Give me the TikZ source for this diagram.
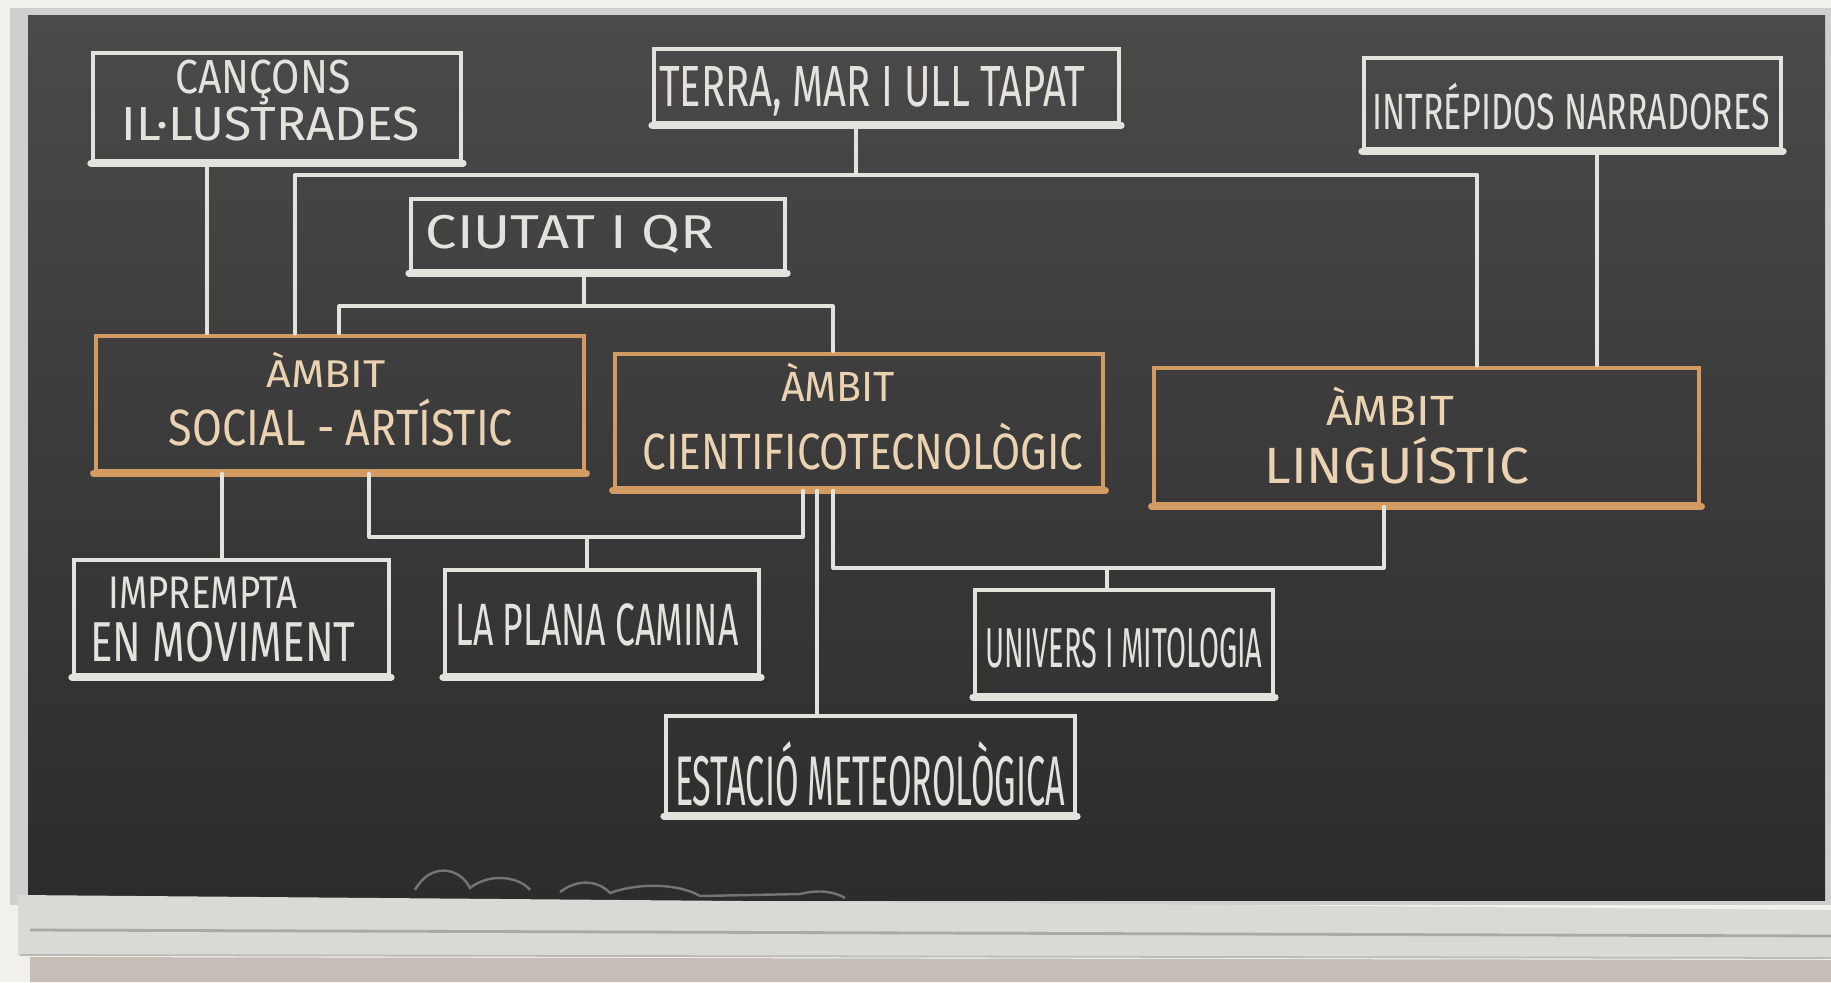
\documentclass[tikz,border=0pt]{standalone}
\usepackage{fontspec}
\setmainfont{Fira Sans}
\usepackage{graphicx}
\usetikzlibrary{fit}
\newlength{\pxu}\setlength{\pxu}{0.01cm}
\newcommand{\cl}[3]{{\fontsize{#1}{#1}\selectfont\resizebox{#2\pxu}{\height}{#3}}}
\definecolor{wallc}{HTML}{F2F0EC}
\definecolor{framec}{HTML}{CFCFCD}
\definecolor{boardtop}{HTML}{4A4A4B}
\definecolor{boardbot}{HTML}{2D2B2B}
\definecolor{trayc}{HTML}{D9D9D5}
\definecolor{traydark}{HTML}{A9A9A5}
\definecolor{floorc}{HTML}{C4BEB6}
\definecolor{chalk}{HTML}{E4E2DC}
\definecolor{ochalk}{HTML}{D39A62}
\definecolor{otext}{HTML}{EBD3B2}
\begin{document}
\begin{tikzpicture}[x=0.01cm,y=-0.01cm,
  box/.style={draw=chalk,line width=1.2pt,inner sep=0pt},
  obox/.style={draw=ochalk,line width=1.4pt,inner sep=0pt},
  txt/.style={text=chalk,inner sep=0pt,align=center},
  otxt/.style={text=otext,inner sep=0pt,align=center},
  base/.style={line width=2pt,line cap=round},
  conn/.style={draw=chalk,line width=0.9pt,line cap=round,line join=round}]
\useasboundingbox (0,0) rectangle (1831,982);
% board and frame
\fill[wallc] (0,0) rectangle (1831,982);
\fill[framec] (10,8) rectangle (1831,905);
\shade[top color=boardtop,bottom color=boardbot] (28,16) rectangle (1825,900);
\fill[trayc] (18,895) -- (1831,910) -- (1831,958) -- (18,955) -- cycle;
\draw[traydark,line width=0.8pt] (30,930) -- (1831,936);
\draw[traydark!80,line width=0.5pt] (20,955) -- (1831,958);
\fill[floorc] (30,957) -- (1831,960) -- (1831,982) -- (30,982) -- cycle;
\draw[chalk!40!boardbot,line width=0.7pt] (415,890) .. controls (430,862) and (460,867) .. (470,888) .. controls (490,872) and (520,877) .. (530,890) (560,892) .. controls (580,877) and (600,882) .. (610,893) .. controls (640,882) and (680,884) .. (700,896) -- (800,894) .. controls (820,889) and (835,892) .. (845,898);

% boxes
\node[box,fit={(93,53) (461,161)}] (cancons) {};
\node[box,fit={(654,49) (1119,123)}] (terra) {};
\node[box,fit={(1364,58) (1781,149)}] (intrep) {};
\node[box,fit={(411,199) (785,271)}] (ciutat) {};
\node[obox,fit={(96,336) (584,471)}] (social) {};
\node[obox,fit={(615,354) (1103,488)}] (cien) {};
\node[obox,fit={(1154,368) (1699,504)}] (ling) {};
\node[box,fit={(74,560) (389,675)}] (impr) {};
\node[box,fit={(445,570) (759,675)}] (plana) {};
\node[box,fit={(975,590) (1273,695)}] (univ) {};
\node[box,fit={(666,716) (1075,814)}] (estac) {};
% heavier chalk along the lower edges
\foreach \b in {cancons,terra,intrep,ciutat,impr,plana,univ,estac}
  \draw[base,chalk] (\b.south west) -- (\b.south east);
\foreach \b in {social,cien,ling}
  \draw[base,ochalk] (\b.south west) -- (\b.south east);

% texts
\node[txt] (t1a) at (263,83) {\cl{13.6}{175}{CANÇONS}};
\node[txt] (t1b) at (271,124) {\cl{13.6}{298}{IL·LUSTRADES}};
\node[txt] (t2) at (872,91) {\cl{16.5}{426}{TERRA, MAR I ULL TAPAT}};
\node[txt] (t3) at (1571,107) {\cl{14.5}{397}{INTRÉPIDOS NARRADORES}};
\node[txt] (t4) at (570,234) {\cl{13.5}{288}{CIUTAT I QR}};
\node[otxt] (t5a) at (326,370) {\cl{11}{119}{ÀMBIT}};
\node[otxt] (t5b) at (341,423) {\cl{14.5}{344}{SOCIAL - ARTÍSTIC}};
\node[otxt] (t6a) at (838,382) {\cl{12}{114}{ÀMBIT}};
\node[otxt] (t6b) at (863,447) {\cl{14.5}{441}{CIENTIFICOTECNOLÒGIC}};
\node[otxt] (t7a) at (1390,406) {\cl{12}{128}{ÀMBIT}};
\node[otxt] (t7b) at (1397,461) {\cl{14.5}{265}{LINGUÍSTIC}};
\node[txt] (t8a) at (203,593) {\cl{13}{189}{IMPREMPTA}};
\node[txt] (t8b) at (223,642) {\cl{16}{265}{EN MOVIMENT}};
\node[txt] (t9) at (597,625) {\cl{17}{283}{LA PLANA CAMINA}};
\node[txt] (t10) at (1124,648) {\cl{16}{277}{UNIVERS I MITOLOGIA}};
\node[txt] (t11) at (870,774) {\cl{20}{390}{ESTACIÓ METEOROLÒGICA}};

% junction coordinates
\coordinate (j1) at (856,175);
\coordinate (bigL) at (295,175);
\coordinate (bigR) at (1477,175);
\coordinate (j2) at (584,306);
\coordinate (c2L) at (339,306);
\coordinate (c2R) at (833,306);
\coordinate (j3) at (587,537);
\coordinate (p3L) at (369,537);
\coordinate (p3R) at (803,537);
\coordinate (j4) at (1107,568);
\coordinate (u4L) at (833,568);
\coordinate (u4R) at (1384,568);

% connectors
\draw[conn] (cancons.south -| 207,0) -- (social.north -| 207,0);
\draw[conn] (terra.south -| j1) -- (j1);
\draw[conn,line width=1.2pt] (social.north -| bigL) -- (bigL) -- (bigR) -- (ling.north -| bigR);
\draw[conn] (intrep.south -| 1597,0) -- (ling.north -| 1597,0);
\draw[conn] (ciutat.south -| j2) -- (j2);
\draw[conn] (social.north -| c2L) -- (c2L) -- (c2R) -- (cien.north -| c2R);
\draw[conn] (social.south -| 222,0) -- (impr.north -| 222,0);
\draw[conn] (social.south -| p3L) -- (p3L) -- (p3R) -- (cien.south -| p3R);
\draw[conn] (j3) -- (plana.north -| j3);
\draw[conn] (cien.south -| 817,0) -- (estac.north -| 817,0);
\draw[conn] (cien.south -| u4L) -- (u4L) -- (u4R) -- (ling.south -| u4R);
\draw[conn] (j4) -- (univ.north -| j4);
\end{tikzpicture}
\end{document}
